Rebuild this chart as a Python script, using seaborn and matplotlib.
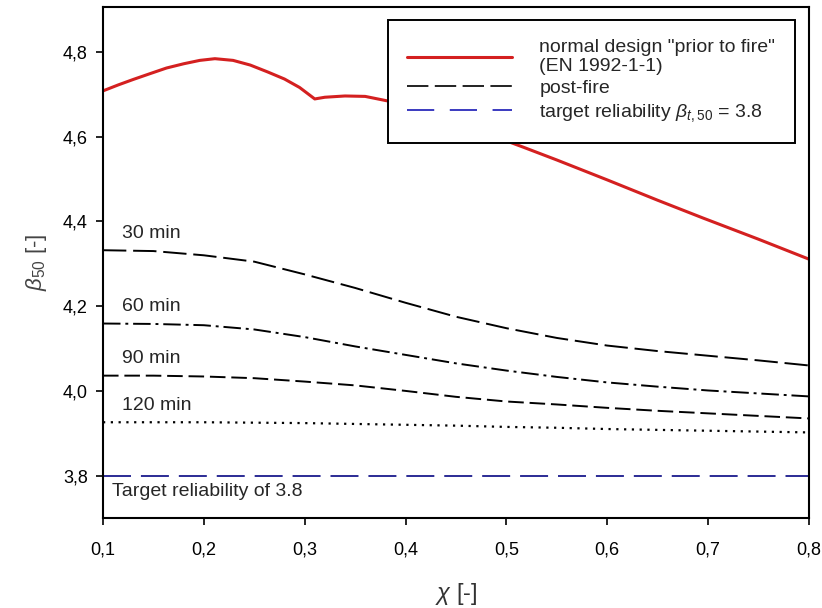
import matplotlib
matplotlib.use("Agg")
import matplotlib.pyplot as plt
from matplotlib.lines import Line2D
from matplotlib.ticker import FuncFormatter
import seaborn as sns

# ---- data ----
x_red = [0.100, 0.115, 0.130, 0.147, 0.163, 0.180, 0.196, 0.211, 0.229, 0.246,
         0.263, 0.280, 0.295, 0.310, 0.320, 0.340, 0.360, 0.387, 0.400, 0.450,
         0.500, 0.517, 0.550, 0.600, 0.650, 0.695, 0.750, 0.800]
y_red = [4.708, 4.722, 4.735, 4.749, 4.762, 4.772, 4.780, 4.784, 4.780, 4.769,
         4.753, 4.736, 4.716, 4.689, 4.693, 4.696, 4.695, 4.682, 4.672, 4.632,
         4.590, 4.575, 4.545, 4.498, 4.450, 4.408, 4.358, 4.311]

x_post = [0.10, 0.15, 0.20, 0.25, 0.30, 0.35, 0.40, 0.45, 0.50, 0.55, 0.60, 0.65,
          0.70, 0.75, 0.80]
y_30 = [4.332, 4.330, 4.320, 4.305, 4.275, 4.243, 4.208, 4.175, 4.148, 4.125,
        4.107, 4.094, 4.083, 4.072, 4.060]
y_60 = [4.159, 4.158, 4.155, 4.145, 4.127, 4.105, 4.085, 4.065, 4.048, 4.033,
        4.020, 4.010, 4.001, 3.994, 3.987]
y_90 = [4.036, 4.036, 4.034, 4.030, 4.022, 4.013, 4.000, 3.986, 3.975, 3.968,
        3.960, 3.953, 3.947, 3.941, 3.935]
y_120 = [3.926, 3.926, 3.926, 3.925, 3.924, 3.922, 3.920, 3.918, 3.915, 3.913,
         3.910, 3.908, 3.906, 3.904, 3.902]
x_target = [0.10, 0.80]
y_target = [3.8, 3.8]

curve_labels = ["30 min", "60 min", "90 min", "120 min"]
label_pos_y = [4.372, 4.200, 4.077, 3.966]
x_ticks = [0.1, 0.2, 0.3, 0.4, 0.5, 0.6, 0.7, 0.8]
y_ticks = [3.8, 4.0, 4.2, 4.4, 4.6, 4.8]

# ---- style ----
sns.set_style("ticks")
plt.rcParams["font.family"] = ["Liberation Sans", "DejaVu Sans"]
plt.rcParams["mathtext.fontset"] = "custom"
plt.rcParams["mathtext.it"] = "Liberation Sans:italic"
plt.rcParams["mathtext.rm"] = "Liberation Sans"

fig = plt.figure(figsize=(8.22, 6.08), dpi=100)
ax = fig.add_axes([0.1253, 0.148, 0.8587, 0.8405])

RED = "#d42020"
sns.lineplot(x=x_red, y=y_red, ax=ax, color=RED, linewidth=2.2)
sns.lineplot(x=x_post, y=y_30, ax=ax, color="black", linewidth=1.4,
             linestyle=(0, (12, 3.5)))
sns.lineplot(x=x_post, y=y_60, ax=ax, color="black", linewidth=1.4,
             linestyle=(0, (9, 2.5, 1.5, 2.5)))
sns.lineplot(x=x_post, y=y_90, ax=ax, color="black", linewidth=1.4,
             linestyle=(0, (8, 3)))
sns.lineplot(x=x_post, y=y_120, ax=ax, color="black", linewidth=1.6,
             linestyle=(0, (1, 2.5)))
sns.lineplot(x=x_target, y=y_target, ax=ax, color="#1a1a8c", linewidth=1.3,
             linestyle=(0, (15.5, 5.5)))

for lab, yy in zip(curve_labels, label_pos_y):
    ax.text(0.119, yy, lab, fontsize=14, ha="left", va="center")
ax.text(0.109, 3.762, "Target reliability of 3.8", fontsize=14,
        ha="left", va="center")

ax.set_xlim(0.1, 0.8)
ax.set_ylim(3.7, 4.906)
ax.set_xticks(x_ticks)
ax.set_yticks(y_ticks)
fmt = FuncFormatter(lambda v, p: f"{v:.1f}".replace(".", ","))
ax.xaxis.set_major_formatter(fmt)
ax.yaxis.set_major_formatter(fmt)
ax.tick_params(axis="both", labelsize=13, direction="out", length=5,
               width=1.2, colors="black")
ax.tick_params(axis="x", pad=12)
ax.tick_params(axis="y", pad=6)
for s in ax.spines.values():
    s.set_visible(True)
    s.set_linewidth(1.5)
    s.set_color("black")

ax.set_xlabel(r"$\chi$ [-]", fontsize=17, labelpad=16, color="#333333")
ax.set_ylabel(r"$\beta_{\mathit{50}}$ [-]", fontsize=16, labelpad=10,
              color="#444444")

handles = [
    Line2D([], [], color=RED, linewidth=2.2),
    Line2D([], [], color="#222222", linewidth=1.4, linestyle=(0, (11, 3.3))),
    Line2D([], [], color="#3a3ac0", linewidth=1.4, linestyle=(0, (14, 8))),
]
labels = ['normal design "prior to fire"\n(EN 1992-1-1)', "post-fire",
          r"target reliability $\beta_{\mathit{t,50}}$ = 3.8"]
leg = ax.legend(handles, labels, loc="upper right", bbox_to_anchor=(0.980, 0.975),
                fontsize=14, frameon=True, fancybox=False, handlelength=5.4,
                handletextpad=1.4, borderpad=1.0, labelspacing=0.25,
                borderaxespad=0.0, edgecolor="black")
for t in leg.get_texts():
    t.set_linespacing(1.1)
leg.get_frame().set_linewidth(1.4)
leg.get_frame().set_alpha(1)

fig.savefig("out.png", dpi=100)
